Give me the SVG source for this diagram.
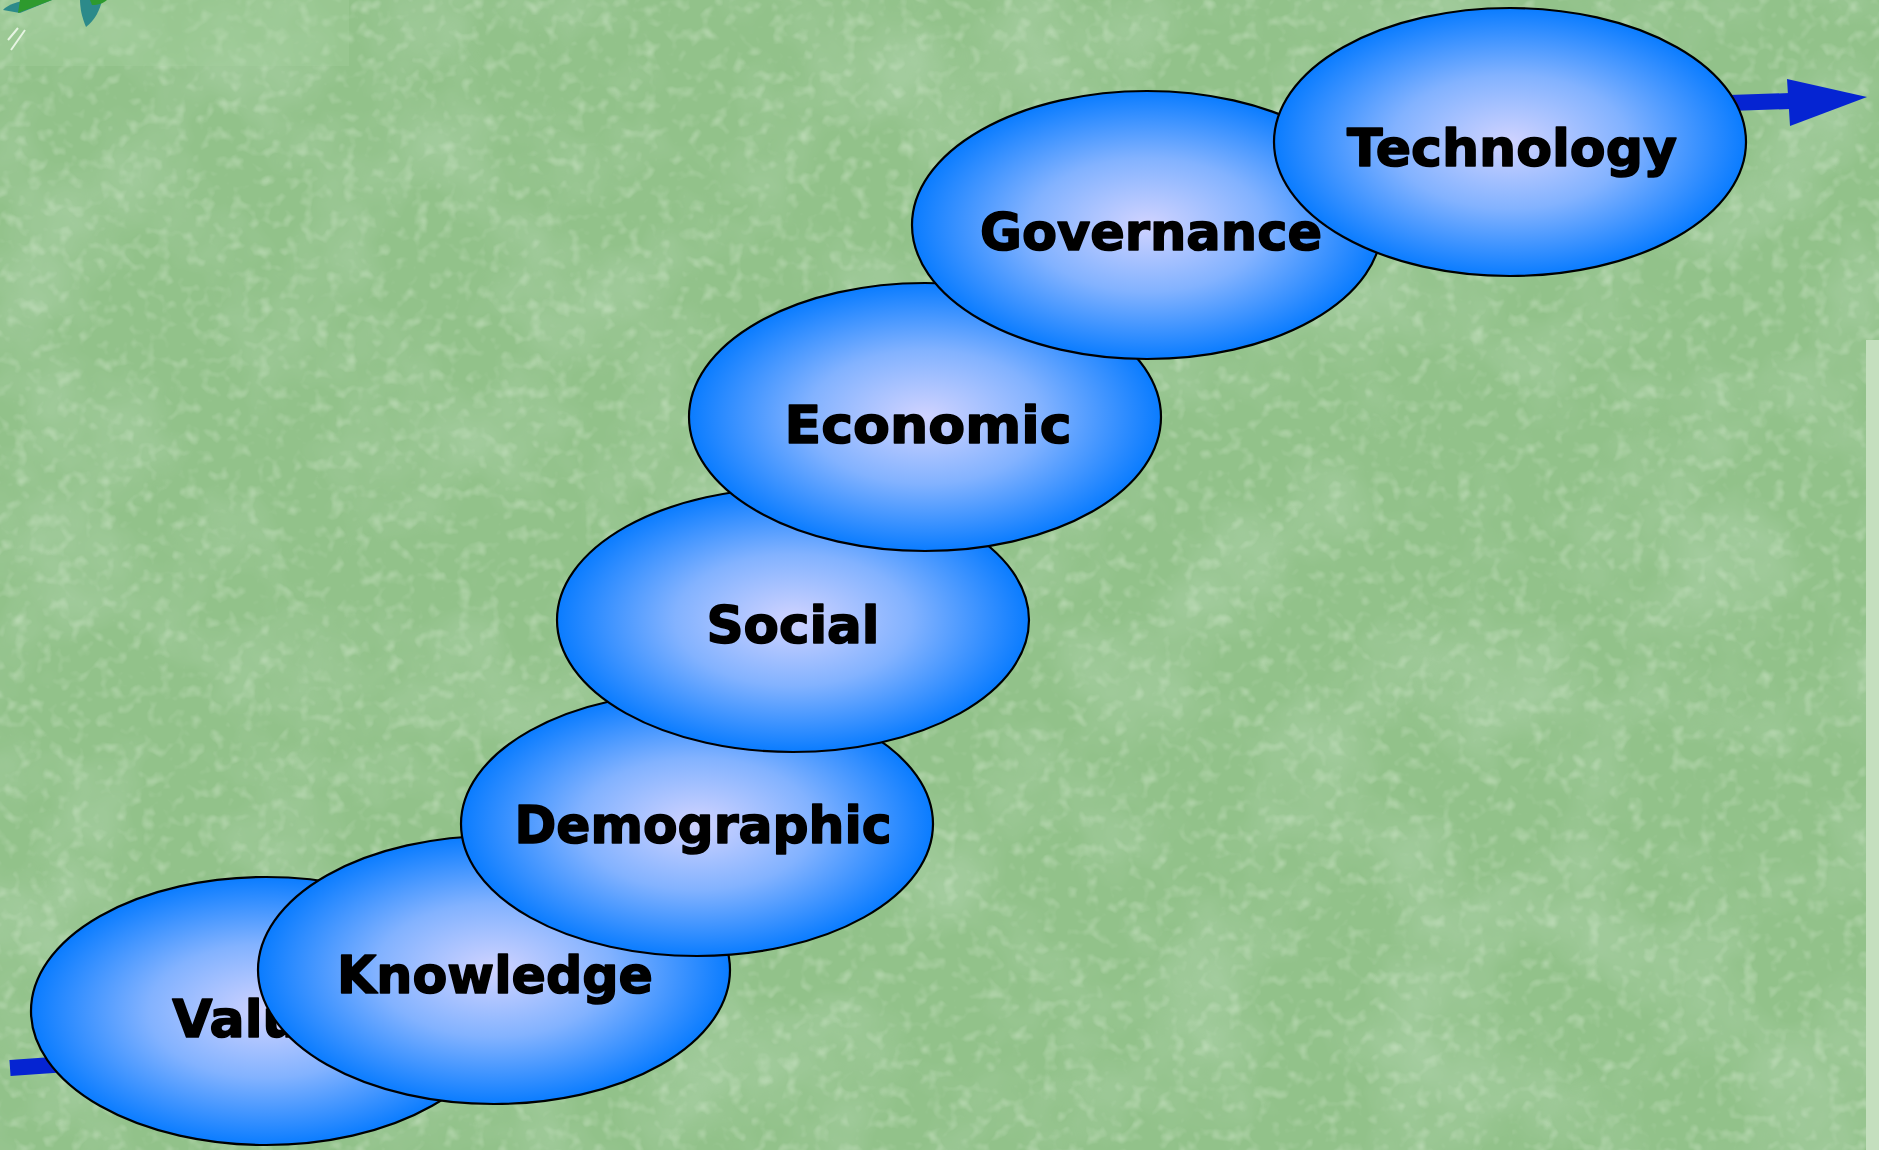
<svg xmlns="http://www.w3.org/2000/svg" width="1879" height="1150" viewBox="0 0 1879 1150">
<defs>
<style>
.node ellipse{fill:url(#blob);stroke:#000;stroke-width:2.2}
.node text{font-family:"DejaVu Sans","Liberation Sans",Arial,sans-serif;font-weight:bold;font-size:52px;fill:#000;stroke:#000;stroke-width:1.6;stroke-linejoin:round;text-anchor:middle}
.arrow{fill:none;stroke:#0524d2;stroke-width:16;stroke-linejoin:round}
.head{fill:#0524d2}
</style>
<radialGradient id="blob" cx="50%" cy="50%" r="50%">
<stop offset="0" stop-color="#d0d3ff"/>
<stop offset="0.5" stop-color="#82b2ff"/>
<stop offset="1" stop-color="#0a7cff"/>
</radialGradient>
<filter id="tex" x="0" y="0" width="1879" height="1150" filterUnits="userSpaceOnUse">
<feTurbulence type="fractalNoise" baseFrequency="0.008" numOctaves="4" seed="7"/>
<feColorMatrix type="matrix" values="0 0 0 0 0.40  0 0 0 0 0.63  0 0 0 0 0.38  1.8 0 0 0 -0.78"/>
</filter>
<filter id="tex2" x="0" y="0" width="1879" height="1150" filterUnits="userSpaceOnUse">
<feTurbulence type="fractalNoise" baseFrequency="0.07" numOctaves="2" seed="11"/>
<feColorMatrix type="matrix" values="0 0 0 0 0.76  0 0 0 0 0.88  0 0 0 0 0.72  1.0 0 0 0 -0.52"/>
</filter>
</defs>
<g id="background">
<rect x="0" y="0" width="1879" height="1150" fill="#92c28a"/>
<rect x="0" y="0" width="1879" height="1150" fill="#000" filter="url(#tex)"/>
<rect x="0" y="0" width="1879" height="1150" fill="#000" filter="url(#tex2)"/>
<rect x="0" y="0" width="349" height="66" fill="#a8d4a2" opacity="0.3"/>
<rect x="1866" y="340" width="13" height="810" fill="#c4dfbe"/>
<path d="M3,10 C10,2 30,-2 52,0 L20,13 Z" fill="#2c8a8a"/>
<path d="M18,13 C30,8 42,4 52,0 L20,0 Z" fill="#2e9a2e"/>
<path d="M80,0 L102,0 C100,10 95,20 86,27 C82,18 80,8 80,0 Z" fill="#2c8a8a"/>
<path d="M90,0 L107,0 C104,3 98,5 92,5 Z" fill="#2e9a2e"/>
<path d="M8,40 L18,28 M11,50 L25,30" stroke="#e6f4e2" stroke-width="2" fill="none"/>
</g>
<g id="connectors">
<path class="arrow" d="M10,1068 L60,1064.5 L266,1011 L494,970 L697,824 L793,620 L925,417 L1147,225 L1510,142 L1700,104 L1790,101"/>
<polygon class="head" points="1787,79 1867,97 1790,126"/>
</g>
<g id="node-values" class="node">
<ellipse cx="266" cy="1011" rx="235" ry="134"/>
<text x="269" y="1037">Values</text>
</g>
<g id="node-knowledge" class="node">
<ellipse cx="494" cy="970" rx="236" ry="134"/>
<text x="495" y="993" textLength="316" lengthAdjust="spacingAndGlyphs">Knowledge</text>
</g>
<g id="node-demographic" class="node">
<ellipse cx="697" cy="824" rx="236" ry="132"/>
<text x="703" y="843" textLength="377" lengthAdjust="spacingAndGlyphs">Demographic</text>
</g>
<g id="node-social" class="node">
<ellipse cx="793" cy="620" rx="236" ry="132"/>
<text x="793" y="643" textLength="173" lengthAdjust="spacingAndGlyphs">Social</text>
</g>
<g id="node-economic" class="node">
<ellipse cx="925" cy="417" rx="236" ry="134"/>
<text x="928" y="443" textLength="287" lengthAdjust="spacingAndGlyphs">Economic</text>
</g>
<g id="node-governance" class="node">
<ellipse cx="1147" cy="225" rx="235" ry="134"/>
<text x="1151" y="250" textLength="342" lengthAdjust="spacingAndGlyphs">Governance</text>
</g>
<g id="node-technology" class="node">
<ellipse cx="1510" cy="142" rx="236" ry="134"/>
<text x="1512" y="166" textLength="330" lengthAdjust="spacingAndGlyphs">Technology</text>
</g>
</svg>
